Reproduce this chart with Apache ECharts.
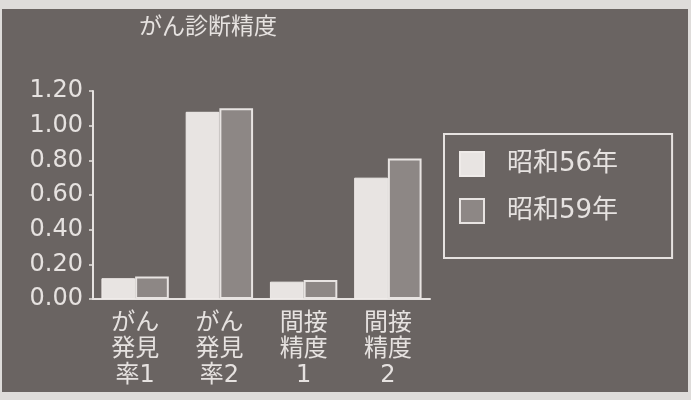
<!DOCTYPE html>
<html><head><meta charset="utf-8">
<script src="https://cdn.jsdelivr.net/npm/echarts@6/dist/echarts.min.js"></script>
<style>html,body{margin:0;padding:0;background:#dedcda;}#c{width:691px;height:400px;}</style>
</head><body><div id="c"></div>
<script>
const categories = ['がん\n発見\n率1', 'がん\n発見\n率2', '間接\n精度\n1', '間接\n精度\n2'];
const seriesNames = ['昭和56年', '昭和59年'];
const s56 = [0.12, 1.08, 0.10, 0.70];
const s59 = [0.13, 1.10, 0.11, 0.81];
const titleText = 'がん診断精度';

const FONT = '"DejaVu Sans", "Noto Sans CJK JP", sans-serif';
const TXT = '#e6e2e0';
const chart = echarts.init(document.getElementById('c'));
chart.setOption({
  backgroundColor: '#dedcda',
  graphic: [{ type: 'rect', z: -10, silent: true, shape: { x: 2, y: 9, width: 686, height: 383 }, style: { fill: '#6a6462' } }],
  title: { text: titleText, left: 134, top: 9, textStyle: { color: TXT, fontSize: 23, fontWeight: 'normal', fontFamily: '"Noto Sans CJK JP", sans-serif' } },
  legend: {
    orient: 'vertical', left: 444, top: 134,
    padding: [17, 54, 34, 15],
    borderColor: TXT, borderWidth: 2, borderRadius: 0,
    itemWidth: 24, itemHeight: 24, itemGap: 21,
    icon: 'rect',
    textStyle: { color: TXT, fontSize: 26, fontFamily: FONT, padding: [0, 0, 0, 18] },
    data: seriesNames
  },
  grid: { left: 93, right: 261, top: 91, bottom: 101 },
  xAxis: {
    type: 'category', data: categories,
    axisLine: { lineStyle: { color: TXT, width: 2 } },
    axisTick: { length: 4, lineStyle: { color: TXT, width: 1.5 } },
    axisLabel: { color: TXT, fontSize: 24, lineHeight: 26, margin: 12, fontFamily: FONT, interval: 0 }
  },
  yAxis: {
    type: 'value', min: 0, max: 1.2, interval: 0.2,
    splitLine: { show: false },
    axisLine: { show: true, lineStyle: { color: TXT, width: 2 } },
    axisTick: { show: true, length: 4, lineStyle: { color: TXT, width: 1.5 } },
    axisLabel: { color: TXT, fontSize: 24, margin: 10, fontFamily: FONT, formatter: v => v.toFixed(2) }
  },
  series: [
    { name: seriesNames[0], type: 'bar', data: s56, barGap: '0%', barCategoryGap: '20%',
      itemStyle: { color: '#e8e4e2', borderColor: '#efebe9', borderWidth: 1 } },
    { name: seriesNames[1], type: 'bar', data: s59,
      itemStyle: { color: '#8d8785', borderColor: '#e8e4e2', borderWidth: 2 } }
  ]
});
</script></body></html>
